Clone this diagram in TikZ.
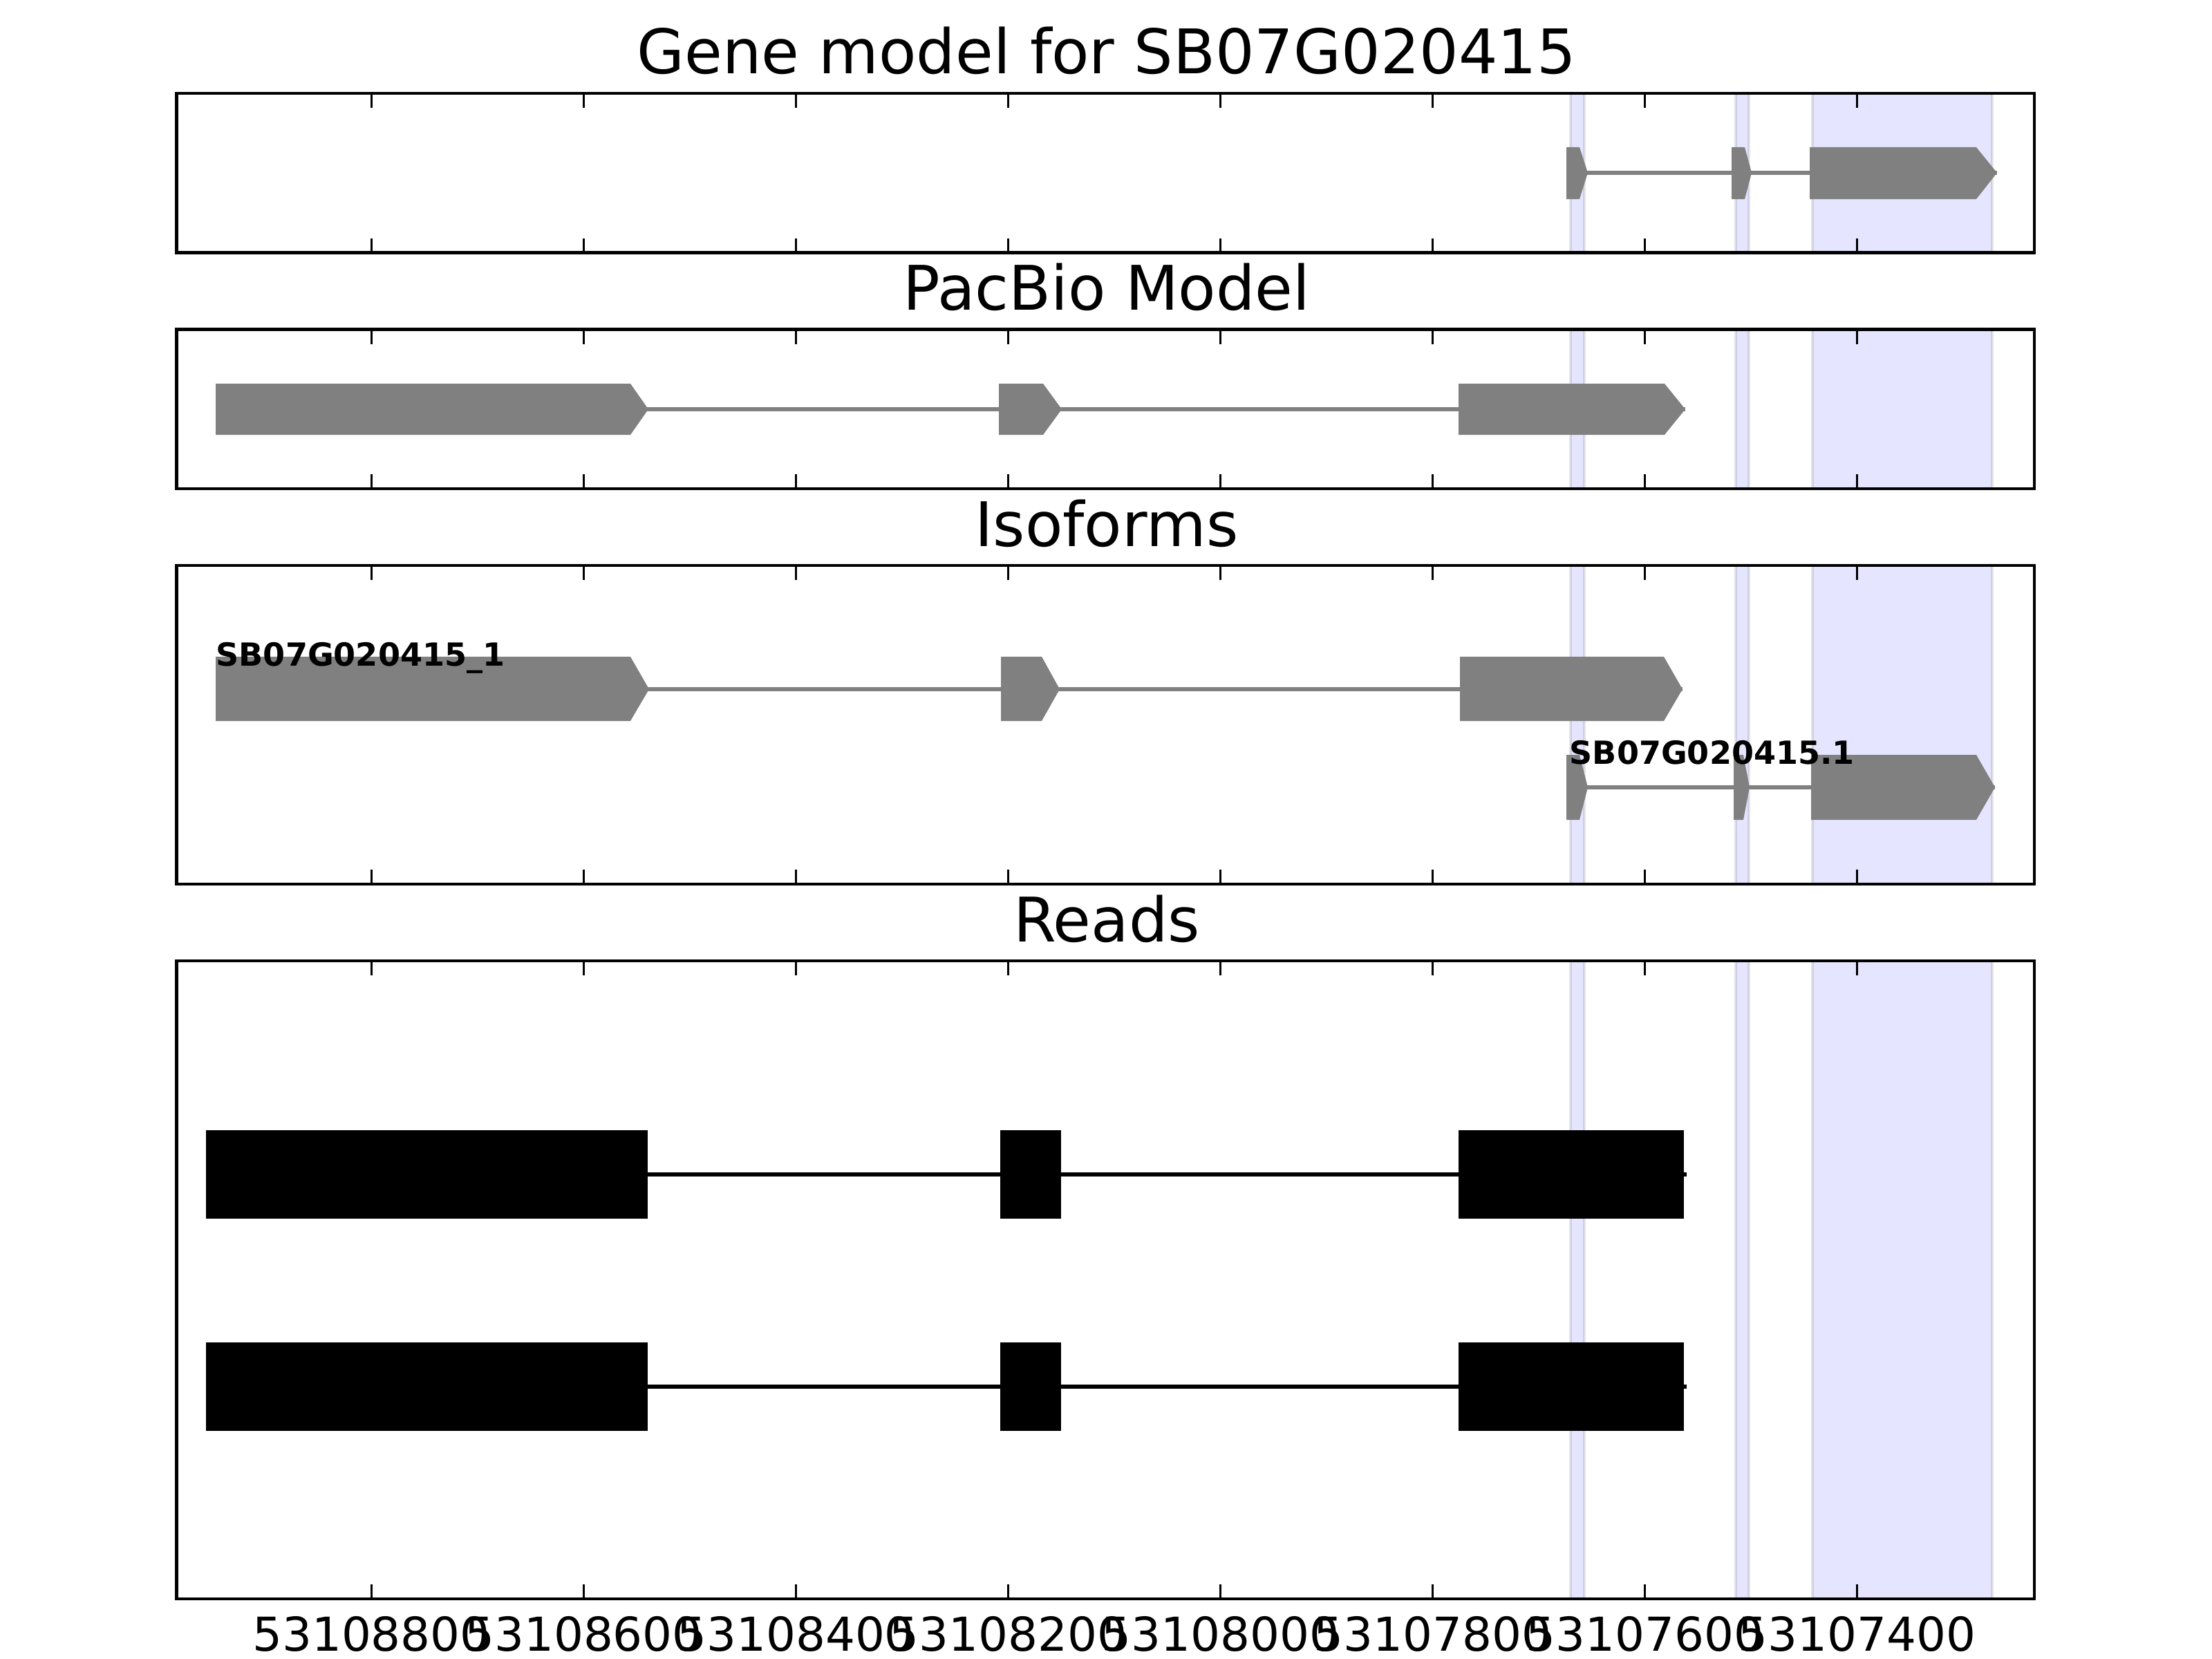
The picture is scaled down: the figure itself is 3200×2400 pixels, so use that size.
\documentclass[tikz,border=0pt]{standalone}
\usepackage{fontspec}
\setmainfont{DejaVu Sans}
\usetikzlibrary{calc}

\tikzset{
  exon/.style={fill=black!50},
  intron/.style={draw=black!50, line width=0.06cm},
  readblock/.style={fill=black},
  readline/.style={draw=black, line width=0.06cm},
  hilite/.style={fill=blue, fill opacity=0.1, draw=black, draw opacity=0.1, line width=0.045cm},
  frame/.style={draw=black, line width=0.048cm},
  axtick/.style={draw=black, line width=0.03cm},
  paneltitle/.style={anchor=base, font=\fontsize{25.3pt}{30pt}\selectfont},
  ticklabel/.style={anchor=base, font=\fontsize{19.2pt}{23pt}\selectfont},
  isolabel/.style={anchor=base west, inner sep=0pt, font=\bfseries\fontsize{13.1pt}{15pt}\selectfont},
}

\begin{document}
\begin{tikzpicture}[x=0.01cm,y=-0.01cm]
\useasboundingbox (0,0) rectangle (3200,2400);
\fill[white] (0,0) rectangle (3200,2400);

% highlighted regions in every panel
\foreach \pt/\pb in {135/365.5, 476.5/707, 818/1279, 1390/2313}
  \foreach \a/\b in {2272/2292, 2511/2530, 2622/2882}
    \filldraw[hilite] (\a,\pt) rectangle (\b,\pb);

% gene model
\draw[intron] (2266,250) -- (2889,250);
\foreach \a/\b/\c in {2266/2285/2297, 2505/2524/2534, 2618/2859/2889}
  \fill[exon] (\a,213) -- (\b,213) -- (\c,250) -- (\b,288) -- (\a,288) -- cycle;

% pacbio model
\draw[intron] (312,592) -- (2438,592);
\foreach \a/\b/\c in {312/912/938, 1445/1509/1536, 2110/2408/2438}
  \fill[exon] (\a,555) -- (\b,555) -- (\c,592) -- (\b,629) -- (\a,629) -- cycle;

% isoforms
\draw[intron] (312,997) -- (2434,997);
\foreach \a/\b/\c in {312/912/939, 1448/1507/1533, 2112/2407/2434}
  \fill[exon] (\a,950) -- (\b,950) -- (\c,997) -- (\b,1043) -- (\a,1043) -- cycle;
\draw[intron] (2266,1139) -- (2886,1139);
\foreach \a/\b/\c in {2266/2285/2297, 2508/2522/2531, 2620/2859/2886}
  \fill[exon] (\a,1092) -- (\b,1092) -- (\c,1139) -- (\b,1186) -- (\a,1186) -- cycle;
\node[isolabel] (iso1) at (312,963) {SB07G020415\_1};
\node[isolabel] (iso2) at (2270,1105) {SB07G020415.1};

% reads
\foreach \ym in {1699, 2006} {
  \draw[readline] (298,\ym) -- (2440,\ym);
  \foreach \a/\b in {298/937, 1447/1535, 2110/2436}
    \fill[readblock] (\a,\ym-64) rectangle (\b,\ym+64);
}

% frames and ticks
\foreach \pt/\pb in {135/365.5, 476.5/707, 818/1279, 1390/2313} {
  \draw[frame] (255.5,\pt) rectangle (2943,\pb);
  \foreach \i in {0,...,7} {
    \pgfmathsetmacro\tx{537+307.1*\i}
    \draw[axtick] (\tx,\pt) -- ++(0,21);
    \draw[axtick] (\tx,\pb) -- ++(0,-21);
  }
}

% titles
\node[paneltitle] (title1) at (1601,107) {Gene model for SB07G020415};
\node[paneltitle] (title2) at (1601,448.5) {PacBio Model};
\node[paneltitle] (title3) at (1601,790) {Isoforms};
\node[paneltitle] (title4) at (1601,1362) {Reads};

% position labels
\foreach \lab [count=\i from 0] in {53108800,53108600,53108400,53108200,53108000,53107800,53107600,53107400} {
  \pgfmathsetmacro\tx{537+307.1*\i}
  \node[ticklabel] (tl\i) at (\tx,2388) {\lab};
}
\end{tikzpicture}
\end{document}
